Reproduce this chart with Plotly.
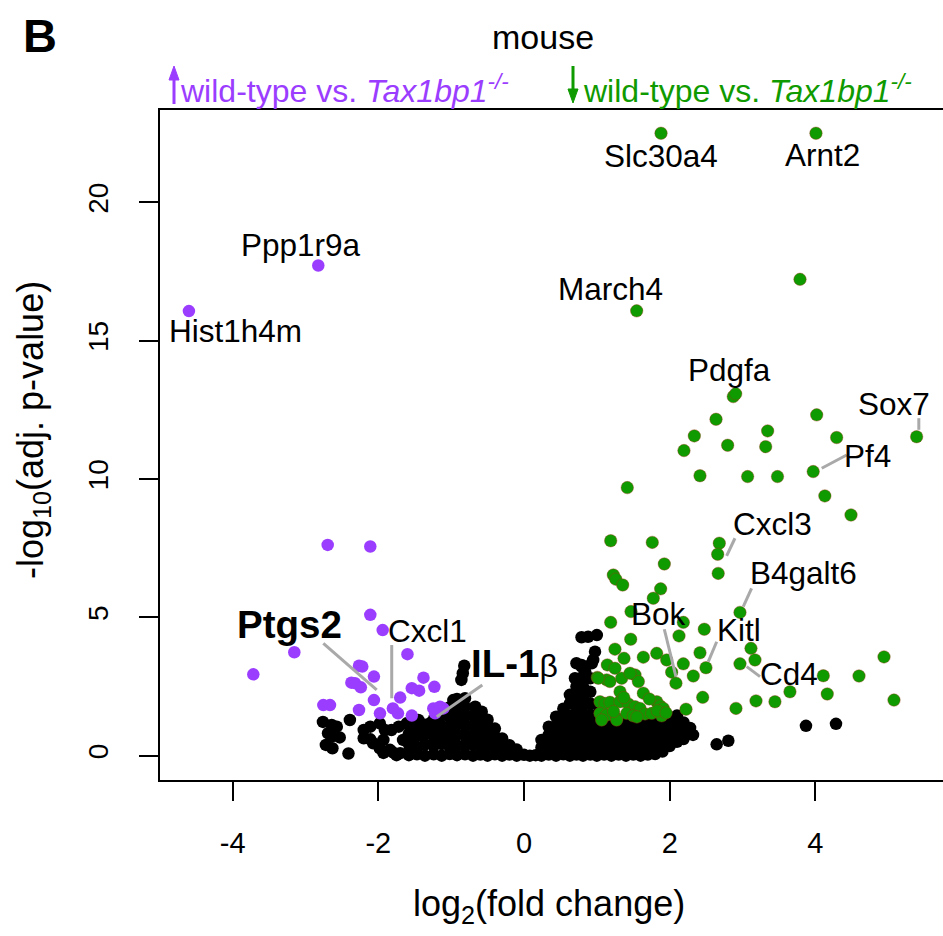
import plotly.graph_objects as go

# ---------------- data (log2 fold change, -log10 adj. p) ----------------
purple_x = [-4.60, -2.824, -2.695, -2.11, -2.11, -1.94, -3.153, -3.716, -1.60, -2.265, -2.22,
            -2.06, -2.32, -2.24, -2.37, -1.38, -1.54, -1.44, -1.23, -1.70, -2.06, -2.755,
            -2.663, -2.265, -1.977, -1.80, -1.73, -1.54, -1.245, -1.153, -1.107, -1.22]
purple_y = [16.07, 17.72, 7.62, 7.56, 5.09, 4.54, 3.74, 2.94, 3.67, 3.25, 3.22,
            2.86, 2.62, 2.47, 2.64, 2.82, 2.44, 2.35, 2.49, 2.10, 2.01, 1.83,
            1.83, 1.65, 1.53, 1.71, 1.53, 1.45, 1.71, 1.77, 1.71, 1.53]

green_x = [1.881, 4.008, 3.789, 1.547, 2.873, 2.906, 2.636, 4.018, 2.338, 3.345, 4.292, 5.39,
           2.196, 2.796, 3.318, 2.416, 3.07, 3.48, 3.97, 1.418, 4.13, 4.489, 2.681, 2.659,
           1.19, 1.761, 1.926, 2.666, 1.226, 1.26, 1.355, 1.876, 1.775, 1.469, 2.965, 1.19,
           2.187, 2.475, 2.128, 1.465, 3.116, 3.171, 1.249, 1.822, 2.416, 1.638, 1.373, 2.965,
           1.959, 2.027, 2.187, 2.498, 1.144, 1.249, 2.324, 2.086, 4.109, 4.599, 4.942, 3.651,
           4.163, 5.079, 3.445, 3.185, 2.91, 2.453, 2.224,
           1.006, 1.135, 1.18, 1.341, 1.524, 1.57, 1.318, 1.638, 1.043, 1.112, 1.18, 1.318,
           1.432, 1.524, 1.593, 1.822, 1.868, 1.913, 1.043, 1.135, 1.272, 1.41, 1.50, 1.661,
           1.753, 1.89, 1.066, 1.272, 1.37, 1.72, 1.83, 1.55, 1.95, 1.23, 1.455, 1.02]
green_y = [22.50, 22.50, 17.22, 16.08, 12.98, 13.08, 12.16, 12.32, 11.56, 11.74, 11.50, 11.53,
           11.03, 11.22, 11.17, 10.12, 10.09, 10.09, 10.27, 9.69, 9.39, 8.70, 7.68, 7.28,
           7.77, 7.71, 6.93, 6.59, 6.53, 6.38, 6.17, 6.03, 5.69, 5.21, 5.18, 4.82,
           4.82, 4.57, 4.33, 4.21, 3.88, 3.46, 3.85, 3.70, 3.72, 3.56, 3.52, 3.32,
           3.46, 3.02, 3.32, 3.18, 3.28, 3.16, 2.88, 2.62, 2.89, 2.88, 3.57, 2.31,
           2.23, 2.01, 1.95, 1.98, 1.71, 2.11, 1.68,
           2.83, 2.74, 2.68, 2.80, 2.92, 2.68, 2.31, 2.26, 1.95, 1.89, 1.93, 1.95,
           1.87, 1.77, 1.71, 1.95, 1.80, 1.71, 1.53, 1.47, 1.35, 1.53, 1.44, 1.51,
           1.53, 1.44, 1.29, 1.29, 2.10, 2.05, 1.62, 1.40, 1.55, 1.60, 2.98, 2.80]

# not significant genes (black), read region by region
black_sparse_x = [-2.76, -2.64, -2.57, -2.39, -2.69, -2.64, -2.53, -2.72, -2.63, -2.41, -2.20, -2.11,
                  -1.98, -2.20, -2.11, -2.07, -1.91, -1.82, -1.72, -1.93, -1.98, -1.84, -1.93, -1.80,
                  -1.61, -1.66, -1.57, -1.70, -1.75, -0.84, -0.86, -0.82,
                  2.645, 2.805, 3.871, 4.283]
black_sparse_y = [1.22, 1.11, 1.05, 1.29, 0.81, 0.69, 0.66, 0.39, 0.27, 0.08, 0.93, 1.05,
                  1.17, 0.63, 0.59, 0.45, 0.93, 0.93, 1.05, 0.57, 0.27, 0.21, 0.10, 0.12,
                  1.17, 0.57, 0.33, 0.09, 0.02, 2.98, 2.74, 3.25,
                  0.41, 0.54, 1.08, 1.15]

black_left_x = [-1.58, -1.58, -1.58, -1.58,
                -1.47, -1.47, -1.47, -1.47, -1.45,
                -1.36, -1.36, -1.36, -1.36, -1.29,
                -1.24, -1.24, -1.24, -1.24, -1.24,
                -1.13, -1.13, -1.13, -1.13, -1.13,
                -1.02, -1.02, -1.02, -1.02, -1.02, -1.02, -0.97,
                -0.92, -0.92, -0.92, -0.92, -0.92, -0.92, -0.92,
                -0.81, -0.81, -0.81, -0.81, -0.81, -0.81, -0.81,
                -0.70, -0.70, -0.70, -0.70, -0.70, -0.67,
                -0.60, -0.60, -0.60, -0.60, -0.60, -0.58,
                -0.50, -0.50, -0.50, -0.50, -0.50,
                -0.40, -0.40, -0.40, -0.40,
                -0.30, -0.30, -0.30,
                -0.20, -0.20,
                -0.10, -0.10,
                0.00, 0.08, 0.16]
black_left_y = [0.02, 0.45, 0.80, 1.15,
                0.05, 0.30, 0.70, 1.05, 1.29,
                0.00, 0.40, 0.78, 1.12, 1.17,
                0.05, 0.35, 0.68, 1.02, 1.30,
                0.00, 0.42, 0.75, 1.08, 1.45,
                0.06, 0.32, 0.70, 1.05, 1.40, 1.75, 2.01,
                0.02, 0.38, 0.76, 1.12, 1.48, 1.77, 2.05,
                0.05, 0.36, 0.72, 1.08, 1.42, 1.76, 2.08,
                0.00, 0.40, 0.75, 1.10, 1.45, 1.77,
                0.04, 0.32, 0.68, 1.02, 1.38, 1.59,
                0.00, 0.38, 0.72, 1.05, 1.30,
                0.05, 0.35, 0.70, 0.98,
                0.00, 0.30, 0.62,
                0.04, 0.38,
                0.00, 0.22,
                0.03, 0.00, 0.02]

black_right_x = [0.24, 0.24, 0.24,
                 0.34, 0.34, 0.34, 0.34,
                 0.44, 0.44, 0.44, 0.44, 0.44,
                 0.54, 0.54, 0.54, 0.54, 0.54, 0.54,
                 0.63, 0.63, 0.63, 0.63, 0.63, 0.63, 0.63,
                 0.72, 0.72, 0.72, 0.72, 0.72, 0.72, 0.72, 0.72,
                 0.81, 0.81, 0.81, 0.81, 0.81, 0.81, 0.81, 0.81, 0.81, 0.79,
                 0.84, 0.70, 0.745, 0.72, 0.79,
                 0.91, 0.91, 0.91, 0.91, 0.91, 0.91, 0.91, 0.91, 0.93, 0.95,
                 1.00, 1.00, 1.00, 1.00, 1.00, 1.00, 0.975, 1.00, 0.79, 0.88,
                 1.10, 1.10, 1.10, 1.10, 1.10,
                 1.20, 1.20, 1.20, 1.20,
                 1.30, 1.30, 1.30, 1.30,
                 1.40, 1.40, 1.40, 1.40, 1.40,
                 1.50, 1.50, 1.50, 1.50,
                 1.60, 1.60, 1.60, 1.60, 1.60,
                 1.70, 1.70, 1.70, 1.70,
                 1.80, 1.80, 1.80, 1.80, 1.80,
                 1.90, 1.90, 1.90, 1.90,
                 2.00, 2.00, 2.00, 2.00,
                 2.10, 2.10, 2.10, 2.10,
                 2.19, 2.19, 2.19,
                 2.28, 2.28, 2.32]
black_right_y = [0.00, 0.30, 0.57,
                 0.04, 0.40, 0.75, 1.05,
                 0.00, 0.36, 0.72, 1.08, 1.41,
                 0.05, 0.40, 0.76, 1.10, 1.35, 1.70,
                 0.00, 0.36, 0.72, 1.08, 1.45, 1.89, 2.20,
                 0.04, 0.40, 0.76, 1.12, 1.48, 1.77, 2.15, 2.50,
                 0.00, 0.36, 0.72, 1.08, 1.44, 1.80, 2.15, 2.49, 2.86, 3.22,
                 3.04, 2.80, 2.56, 3.34, 3.28,
                 0.04, 0.40, 0.76, 1.12, 1.48, 1.89, 2.31, 2.80, 3.34, 3.46,
                 0.00, 0.36, 0.72, 1.08, 1.44, 1.85, 3.76, 4.36, 4.28, 4.30,
                 0.04, 0.40, 0.76, 1.12, 1.40,
                 0.00, 0.36, 0.72, 1.08,
                 0.04, 0.40, 0.76, 1.12,
                 0.00, 0.36, 0.72, 1.08, 1.30,
                 0.04, 0.40, 0.76, 1.12,
                 0.00, 0.36, 0.72, 1.08, 1.30,
                 0.04, 0.40, 0.76, 1.12,
                 0.06, 0.36, 0.72, 1.08, 1.30,
                 0.15, 0.45, 0.80, 1.15,
                 0.35, 0.62, 0.98, 1.35,
                 0.50, 0.85, 1.17, 1.45,
                 0.60, 0.90, 1.20,
                 0.80, 1.00, 0.75]

# gene labels: text, label position, leader segment (x0, y0, x1, y1) or None
label_text = ["Hist1h4m", "Ppp1r9a", "Slc30a4", "Arnt2", "March4", "Pdgfa", "Sox7", "Pf4",
              "Cxcl3", "B4galt6", "Bok", "Kitl", "Cd4", "Cxcl1"]
label_x = [-3.963, -3.065, 1.885, 4.093, 1.185, 2.817, 5.079, 4.72, 3.407, 3.834, 1.844, 2.949, 3.64, -1.318]
label_y = [15.34, 18.46, 21.66, 21.73, 16.88, 13.94, 12.72, 10.83, 8.37, 6.59, 5.13, 4.54, 2.96, 4.49]
label_seg = [None, None, None, None, None, None,
             (5.42, 12.2, 5.42, 11.78), (4.43, 10.87, 4.087, 10.39),
             (2.896, 7.86, 2.782, 7.22), (3.124, 6.05, 3.01, 5.39),
             (1.926, 4.57, 2.086, 2.86), (2.645, 4.12, 2.53, 3.40),
             (3.24, 2.856, 3.057, 3.218), (-1.816, 4.0, -1.816, 2.075)]

bold_text = ["<b>Ptgs2</b>", "<b>IL-1</b><span style='font-size:32px'>β</span>"]
bold_x = [-3.219, -0.137]
bold_y = [4.74, 3.35]
bold_seg = [(-2.755, 4.06, -2.022, 2.375), (-0.572, 2.556, -1.198, 1.41)]

x_ticks = [-4, -2, 0, 2, 4]
x_tick_text = ["-4", "-2", "0", "2", "4"]
y_ticks = [0, 5, 10, 15, 20]

# ---------------- styling ----------------
PURPLE = "#9B3DFF"
GREEN = "#0F9A00"
GREY = "#A9A9A9"
FONT = "Liberation Sans, Arial, Helvetica, sans-serif"

W, H = 943, 936
ML, MR, MT, MB = 160, 0, 110, 156
PW, PH = W - ML - MR, H - MT - MB


def px(xp):
    return (xp - ML) / PW


def py(yp):
    return (H - MB - yp) / PH


fig = go.Figure()
black_x = black_sparse_x + black_left_x + black_right_x
black_y = black_sparse_y + black_left_y + black_right_y
fig.add_trace(go.Scatter(x=black_x, y=black_y, mode="markers",
                         marker=dict(size=12.5, color="black", line=dict(width=0)),
                         hoverinfo="skip", showlegend=False))
fig.add_trace(go.Scatter(x=purple_x, y=purple_y, mode="markers",
                         marker=dict(size=12.5, color=PURPLE, line=dict(width=0)),
                         hoverinfo="skip", showlegend=False))
fig.add_trace(go.Scatter(x=green_x, y=green_y, mode="markers",
                         marker=dict(size=12.5, color=GREEN, line=dict(width=0.7, color="rgba(160,50,20,0.55)")),
                         hoverinfo="skip", showlegend=False))

for seg in label_seg + bold_seg:
    if seg is None:
        continue
    fig.add_shape(type="line", xref="x", yref="y", x0=seg[0], y0=seg[1], x1=seg[2], y1=seg[3],
                  line=dict(color=GREY, width=3), layer="above")


# direction arrows next to the subtitles (drawn as shapes)
def arrow(xc, y_tail, y_tip, color):
    head = 14 if y_tip < y_tail else -14
    fig.add_shape(type="line", xref="paper", yref="paper",
                  x0=px(xc), y0=py(y_tail), x1=px(xc), y1=py(y_tip + head * 0.7),
                  line=dict(color=color, width=3))
    fig.add_shape(type="path", xref="paper", yref="paper",
                  path=f"M {px(xc - 5)},{py(y_tip + head)} L {px(xc + 5)},{py(y_tip + head)} "
                       f"L {px(xc)},{py(y_tip)} Z",
                  fillcolor=color, line=dict(color=color, width=1))


arrow(174, 104, 66, PURPLE)
arrow(573, 66, 103, GREEN)

anns = []
for t, x, y in zip(label_text, label_x, label_y):
    anns.append(dict(text=t, x=x, y=y, xref="x", yref="y", showarrow=False,
                     xanchor="center", yanchor="middle",
                     font=dict(family=FONT, size=31.5, color="black")))
for t, x, y in zip(bold_text, bold_x, bold_y):
    anns.append(dict(text=t, x=x, y=y, xref="x", yref="y", showarrow=False,
                     xanchor="center", yanchor="middle",
                     font=dict(family=FONT, size=38.5, color="black")))

# panel letter, title, subtitles
anns.append(dict(text="<b>B</b>", x=px(40), y=py(35), xref="paper", yref="paper", showarrow=False,
                 xanchor="center", yanchor="middle", font=dict(family=FONT, size=47, color="black")))
anns.append(dict(text="mouse", x=px(543), y=py(37), xref="paper", yref="paper", showarrow=False,
                 xanchor="center", yanchor="middle", font=dict(family=FONT, size=34, color="black")))
anns.append(dict(text="wild-type vs. <i>Tax1bp1<sup>-/-</sup></i>", x=px(178), y=py(89),
                 xref="paper", yref="paper", showarrow=False, xanchor="left", yanchor="middle",
                 font=dict(family=FONT, size=32, color=PURPLE)))
anns.append(dict(text="wild-type vs. <i>Tax1bp1<sup>-/-</sup></i>", x=px(581), y=py(89),
                 xref="paper", yref="paper", showarrow=False, xanchor="left", yanchor="middle",
                 font=dict(family=FONT, size=32, color=GREEN)))
# axis titles
anns.append(dict(text="log<sub>2</sub>(fold change)", x=px(549), y=py(906), xref="paper", yref="paper",
                 showarrow=False, xanchor="center", yanchor="middle",
                 font=dict(family=FONT, size=36, color="black")))
anns.append(dict(text="-log<sub>10</sub>(adj. p-value)", x=px(33), y=py(430), xref="paper", yref="paper",
                 showarrow=False, xanchor="center", yanchor="middle", textangle=-90,
                 font=dict(family=FONT, size=36, color="black")))

fig.update_layout(
    width=W, height=H, autosize=False,
    margin=dict(l=ML, r=MR, t=MT, b=MB, pad=0),
    paper_bgcolor="white", plot_bgcolor="white",
    annotations=anns, showlegend=False,
    font=dict(family=FONT, color="black"),
)
fig.update_xaxes(range=[-4.997, 5.752], tickvals=x_ticks, ticktext=x_tick_text, ticks="outside",
                 ticklen=19, tickwidth=2,
                 tickcolor="black", showline=True, linecolor="black", linewidth=2, mirror=True,
                 showgrid=False, zeroline=False, tickfont=dict(family=FONT, size=29, color="black"),
                 ticklabelstandoff=17)
fig.update_yaxes(range=[-0.879, 23.34], tickvals=y_ticks, ticks="outside", ticklen=19, tickwidth=2,
                 tickcolor="black", showline=True, linecolor="black", linewidth=2, mirror=False,
                 showgrid=False, zeroline=False, tickangle=-90,
                 tickfont=dict(family=FONT, size=28, color="black"), ticklabelstandoff=20)

fig.write_html("out.html")
